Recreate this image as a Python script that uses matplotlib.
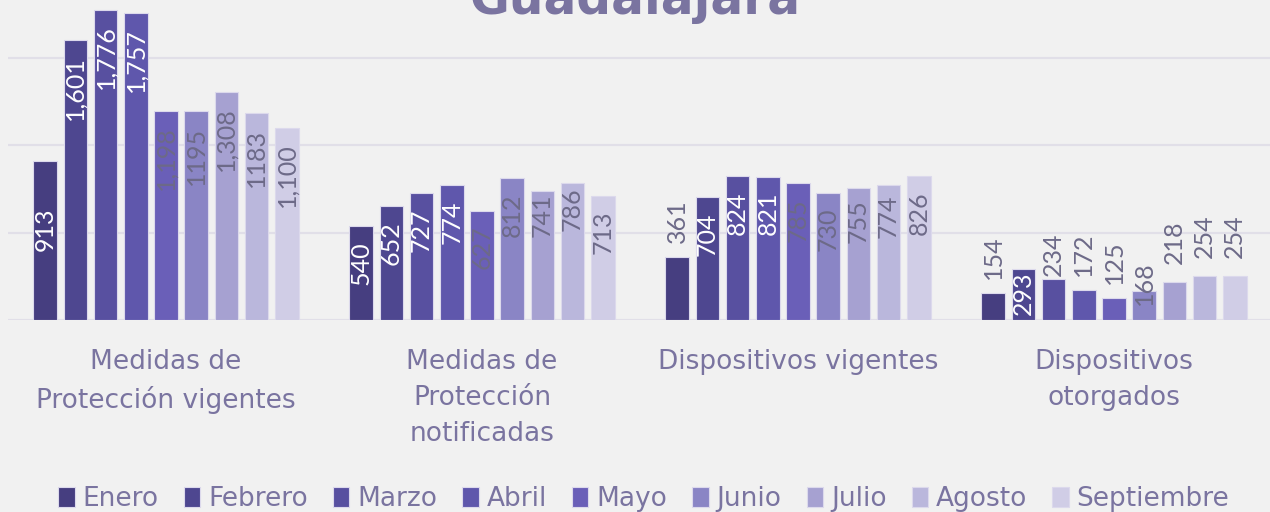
import numpy as np
import matplotlib.pyplot as plt

plt.rcParams['font.family'] = ['DejaVu Sans']

categories = ["Medidas de\nProtección vigentes", "Medidas de\nProtección\nnotificadas",
              "Dispositivos vigentes", "Dispositivos\notorgados"]
months = ["Enero", "Febrero", "Marzo", "Abril", "Mayo", "Junio", "Julio", "Agosto", "Septiembre"]

# one row per month, one value per category
enero = [913, 540, 361, 154]
febrero = [1601, 652, 704, 293]
marzo = [1776, 727, 824, 234]
abril = [1757, 774, 821, 172]
mayo = [1198, 627, 785, 125]
junio = [1195, 812, 730, 168]
julio = [1308, 741, 755, 218]
agosto = [1183, 786, 774, 254]
septiembre = [1100, 713, 826, 254]
values = [enero, febrero, marzo, abril, mayo, junio, julio, agosto, septiembre]

# labels as printed in the source (thousand separators are inconsistent there)
label_text = [
    ["913", "540", "361", "154"],
    ["1,601", "652", "704", "293"],
    ["1,776", "727", "824", "234"],
    ["1,757", "774", "821", "172"],
    ["1,198", "627", "785", "125"],
    ["1195", "812", "730", "168"],
    ["1,308", "741", "755", "218"],
    ["1183", "786", "774", "254"],
    ["1,100", "713", "826", "254"],
]

colors = ["#463e80", "#4e4790", "#5850a0", "#5f57ac", "#6a5fb8",
          "#8a85c5", "#a6a1d1", "#bab7dc", "#d0cde6"]
text_col = "#7a74a0"
label_gray = "#6d6a88"
bg = "#f1f1f1"

# (month, category) labels drawn above the bar instead of inside
outside = {(0, 2), (0, 3), (2, 3), (3, 3), (4, 3), (5, 3), (6, 3), (7, 3), (8, 3)}
# labels that sit off the usual spot in the source (offset in points)
shift = {(0, 0): -34, (1, 3): -2, (6, 1): -2, (7, 1): -3, (6, 2): -8, (7, 2): -7,
         (2, 3): 2, (5, 3): -10, (6, 3): 13, (7, 3): 13, (8, 3): 13}

fig = plt.figure(figsize=(12.7, 5.12), dpi=100, facecolor=bg)
ax = fig.add_axes([8 / 1270, 192 / 512, 1264 / 1270, 320 / 512])
ax.set_facecolor(bg)

x = np.arange(len(categories))
step = 30.2 / 316
width = 23.7 / 316
for i, (m, vals) in enumerate(zip(months, values)):
    pos = x + (i - 4) * step
    bars = ax.bar(pos, vals, width, color=colors[i], edgecolor="#dcd9ec",
                  linewidth=0.8, label=m, zorder=3)
    for j, b in enumerate(bars):
        top = b.get_height()
        cx = b.get_x() + b.get_width() / 2
        if (i, j) in outside:
            ax.annotate(label_text[i][j], (cx, top),
                        xytext=(0, shift.get((i, j), 10)), textcoords="offset points",
                        rotation=90, ha="center", va="bottom", fontsize=18,
                        family="Lato", color=label_gray, zorder=4)
        else:
            c = "white" if i < 4 else label_gray
            ax.annotate(label_text[i][j], (cx, top),
                        xytext=(0, shift.get((i, j), -11)), textcoords="offset points",
                        rotation=90, ha="center", va="top", fontsize=18,
                        family="Lato", color=c, zorder=4)

ax.set_xlim(-0.5, 3.5)
ax.set_ylim(0, 320 / 87.3 * 500)
ax.set_yticks([0, 500, 1000, 1500])
ax.yaxis.grid(True, color="#e1dfe8", linewidth=1.6, zorder=0)
ax.tick_params(axis="y", length=0, labelleft=False)
ax.tick_params(axis="x", length=0, pad=21)
ax.set_xticks(x)
ax.set_xticklabels(categories, fontsize=19, color=text_col, linespacing=1.5, va="top")
for s in ax.spines.values():
    s.set_visible(False)

fig.text(0.5, 1 - 14 / 512, "Guadalajara", ha="center", va="baseline",
         fontsize=35, fontweight="bold", color=text_col)

ax.legend(loc="center", bbox_to_anchor=(0.503, -0.56), ncol=9, frameon=False,
          fontsize=19, labelcolor=text_col, handlelength=0.62, handleheight=0.75,
          handletextpad=0.3, columnspacing=0.95, borderaxespad=0)

fig.savefig("out.png", dpi=100, facecolor=bg)
